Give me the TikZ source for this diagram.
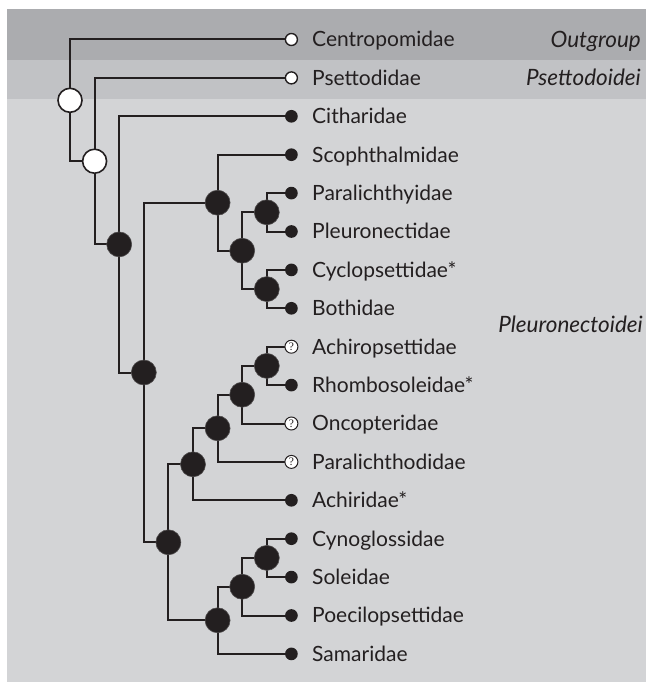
\documentclass[tikz,border=0pt]{standalone}
\usepackage{fontspec}
\setmainfont{Lato}
\newfontfamily\qfont{Liberation Serif}
\pgfdeclarelayer{bgl}
\pgfdeclarelayer{edges}
\pgfsetlayers{bgl,edges,main}
\definecolor{ink}{HTML}{231F20}
\definecolor{bandA}{HTML}{ABACAF}
\definecolor{bandB}{HTML}{C1C2C5}
\definecolor{bandC}{HTML}{D3D4D6}
\tikzset{
  inode/.style={circle, fill=ink, draw=ink!80, line width=0.6pt, minimum size=25pt, inner sep=0pt},
  onode/.style={circle, fill=white, draw=ink, line width=1.6pt, minimum size=24pt, inner sep=0pt},
  leafdot/.style={circle, fill=ink, minimum size=12.7pt, inner sep=0pt},
  leafo/.style={circle, fill=white, draw=ink, line width=1.4pt, minimum size=12pt, inner sep=0pt},
  leafq/.style={circle, fill=white, draw=ink, line width=1pt, minimum size=13pt, inner sep=0pt, font=\qfont\fontsize{11.5}{11.5}\selectfont, text=ink},
  lab/.style={anchor=base west, font=\fontsize{21}{24}\selectfont, text=ink, inner sep=0pt},
  grp/.style={anchor=base east, font=\itshape\fontsize{22.5}{24}\selectfont, text=ink, inner sep=0pt},
  edge/.style={draw=ink, line width=2pt}
}
\begin{document}
\begin{tikzpicture}[x=1pt,y=-1pt]
\useasboundingbox (0,0) rectangle (646,682);
% leaves
\def\lx{291.4}
\node[leafo] (l0) at (\lx,39.5) {};
\node[leafo] (l1) at (\lx,77.9) {};
\node[leafdot] (l2) at (\lx,116.3) {};
\node[leafdot] (l3) at (\lx,154.7) {};
\node[leafdot] (l4) at (\lx,193.1) {};
\node[leafdot] (l5) at (\lx,231.5) {};
\node[leafdot] (l6) at (\lx,269.9) {};
\node[leafdot] (l7) at (\lx,308.3) {};
\node[leafq] (l8) at (\lx,346.7) {?};
\node[leafdot] (l9) at (\lx,385.1) {};
\node[leafq] (l10) at (\lx,423.5) {?};
\node[leafq] (l11) at (\lx,461.9) {?};
\node[leafdot] (l12) at (\lx,500.3) {};
\node[leafdot] (l13) at (\lx,538.7) {};
\node[leafdot] (l14) at (\lx,577.1) {};
\node[leafdot] (l15) at (\lx,615.5) {};
\node[leafdot] (l16) at (\lx,653.9) {};
% labels
\node[lab] (t0) at (312,46.9) {Centropomidae};
\node[lab] (t1) at (312,85.3) {Psettodidae};
\node[lab] (t2) at (312,123.7) {Citharidae};
\node[lab] (t3) at (312,162.1) {Scophthalmidae};
\node[lab] (t4) at (312,200.5) {Paralichthyidae};
\node[lab] (t5) at (312,238.9) {Pleuronectidae};
\node[lab] (t6) at (312,277.3) {Cyclopsettidae*};
\node[lab] (t7) at (312,315.7) {Bothidae};
\node[lab] (t8) at (312,354.1) {Achiropsettidae};
\node[lab] (t9) at (312,392.5) {Rhombosoleidae*};
\node[lab] (t10) at (312,430.9) {Oncopteridae};
\node[lab] (t11) at (312,469.3) {Paralichthodidae};
\node[lab] (t12) at (312,507.7) {Achiridae*};
\node[lab] (t13) at (312,546.1) {Cynoglossidae};
\node[lab] (t14) at (312,584.5) {Soleidae};
\node[lab] (t15) at (312,622.9) {Poecilopsettidae};
\node[lab] (t16) at (312,661.3) {Samaridae};
\node[grp] (g1) at (641,47.3) {Outgroup};
\node[grp] (g2) at (641,85.7) {Psettodoidei};
\node[grp] (g3) at (643,332.5) {Pleuronectoidei};
% internal nodes
\node[onode] (n1) at (70,100.3) {};
\node[onode] (n2) at (94.6,161.2) {};
\node[inode] (n3) at (119.2,244.4) {};
\node[inode] (n4) at (143.8,372.5) {};
\node[inode] (na) at (217.6,202.7) {};
\node[inode] (nb) at (242.2,250.7) {};
\node[inode] (nc) at (266.8,212.3) {};
\node[inode] (nd) at (266.8,289.1) {};
\node[inode] (ne) at (168.4,542.3) {};
\node[inode] (nl) at (193,464.3) {};
\node[inode] (nk) at (217.6,428.3) {};
\node[inode] (nj) at (242.2,394.7) {};
\node[inode] (ni) at (266.8,365.9) {};
\node[inode] (nf) at (217.6,620.3) {};
\node[inode] (ng) at (242.2,586.7) {};
\node[inode] (nh) at (266.8,557.9) {};
% edges
\begin{pgfonlayer}{edges}
\draw[edge] (l0.center) -| (n1.center) |- (n2.center);
\draw[edge] (l1.center) -| (n2.center) |- (n3.center);
\draw[edge] (l2.center) -| (n3.center) |- (n4.center);
\draw[edge] (na.center) -| (n4.center) |- (ne.center);
\draw[edge] (l3.center) -| (na.center) |- (nb.center);
\draw[edge] (nc.center) -| (nb.center) |- (nd.center);
\draw[edge] (l4.center) -| (nc.center) |- (l5.center);
\draw[edge] (l6.center) -| (nd.center) |- (l7.center);
\draw[edge] (nl.center) -| (ne.center) |- (nf.center);
\draw[edge] (nk.center) -| (nl.center) |- (l12.center);
\draw[edge] (nj.center) -| (nk.center) |- (l11.center);
\draw[edge] (ni.center) -| (nj.center) |- (l10.center);
\draw[edge] (l8.center) -| (ni.center) |- (l9.center);
\draw[edge] (ng.center) -| (nf.center) |- (l16.center);
\draw[edge] (nh.center) -| (ng.center) |- (l15.center);
\draw[edge] (l13.center) -| (nh.center) |- (l14.center);
\end{pgfonlayer}
% background bands
\begin{pgfonlayer}{bgl}
\fill[bandA] (7,9) rectangle (646,60);
\fill[bandB] (7,60) rectangle (646,99);
\fill[bandC] (7,99) rectangle (646,682);
\end{pgfonlayer}
\end{tikzpicture}
\end{document}
